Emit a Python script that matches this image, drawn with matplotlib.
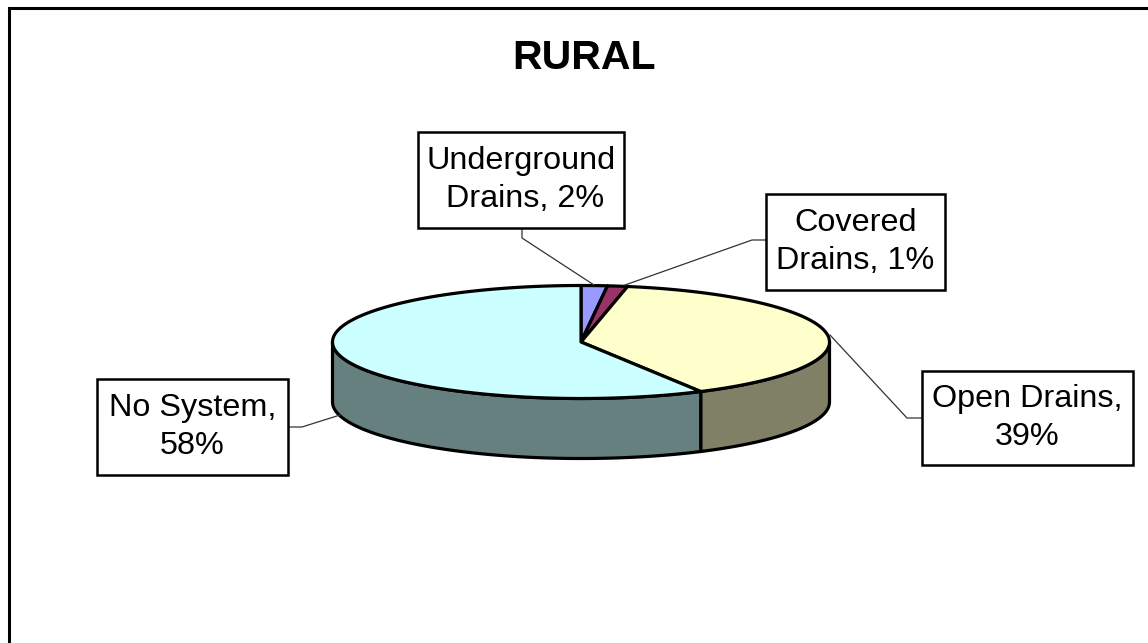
import numpy as np
import matplotlib
matplotlib.use('Agg')
import matplotlib.pyplot as plt
from matplotlib.patches import Polygon, Rectangle

plt.rcParams['font.family'] = ['Liberation Sans', 'DejaVu Sans']

categories = ['Underground', 'Covered', 'Open Drains', 'No System']
shares = [1.7, 1.3, 39, 58]
label_text = ['Underground\n Drains, 2%', 'Covered\nDrains, 1%', 'Open Drains,\n39%', 'No System,\n58%']
title = 'RURAL'

top_colors = ['#9999FF', '#993366', '#FFFFCC', '#CCFFFF']
side_colors = ['#666680', '#80334D', '#808066', '#668080']

# pie geometry in pixels
cx, cy = 581, 342
rx, ry = 248.5, 56.5
depth = 60
lw = 2.3

# label boxes: x0, y0, x1, y1
boxes = [(418, 132, 624, 228), (766, 194, 945, 290), (922, 371, 1133, 465), (97, 379, 288, 475)]
# leader lines from box to pie
leaders = [[(522, 228), (522, 238), (594, 285)],
           [(766, 240), (752, 240), (625, 285)],
           [(922, 418), (907, 418), (830, 335)],
           [(288, 427), (302, 427), (340, 415)]]


def rim(f0, f1, n=120):
    # points on the ellipse, fraction 0 = top, going clockwise (y axis is down)
    t = np.linspace(f0, f1, n) * 2 * np.pi
    return cx + rx * np.sin(t), cy - ry * np.cos(t)


fig = plt.figure(figsize=(11.48, 6.43), dpi=100)
ax = fig.add_axes([0, 0, 1, 1])
ax.set_xlim(0, 1148)
ax.set_ylim(643, 0)
ax.axis('off')

# chart frame, the right and bottom edges are cut off in the picture
ax.plot([8.5, 8.5, 1148], [643, 7.5, 7.5], color='black', lw=2.2, solid_joinstyle='miter')

edges = np.cumsum([0] + shares) / sum(shares)

# side wall first, only the front half of the rim shows
for i in range(len(shares)):
    f0, f1 = max(edges[i], 0.25), min(edges[i + 1], 0.75)
    if f1 <= f0:
        continue
    x, y = rim(f0, f1)
    pts = np.r_[np.c_[x, y], np.c_[x[::-1], y[::-1] + depth]]
    ax.add_patch(Polygon(pts, closed=True, fc=side_colors[i], ec='black', lw=lw, joinstyle='round'))

# top of the pie
for i in range(len(shares)):
    x, y = rim(edges[i], edges[i + 1])
    pts = np.r_[[(cx, cy)], np.c_[x, y]]
    ax.add_patch(Polygon(pts, closed=True, fc=top_colors[i], ec='black', lw=lw, joinstyle='round'))

for line in leaders:
    xs, ys = zip(*line)
    ax.plot(xs, ys, color='#333333', lw=0.9)

for box, txt in zip(boxes, label_text):
    x0, y0, x1, y1 = box
    ax.add_patch(Rectangle((x0, y0), x1 - x0, y1 - y0, fc='white', ec='black', lw=1.8, zorder=3))
    ax.text((x0 + x1) / 2, (y0 + y1) / 2, txt, ha='center', va='center', fontsize=23.3,
            linespacing=1.34, color='black', zorder=4)

ax.text(584, 58, title, ha='center', va='center', fontsize=29.5, fontweight='bold', color='black')

fig.savefig('out.png', dpi=100)
